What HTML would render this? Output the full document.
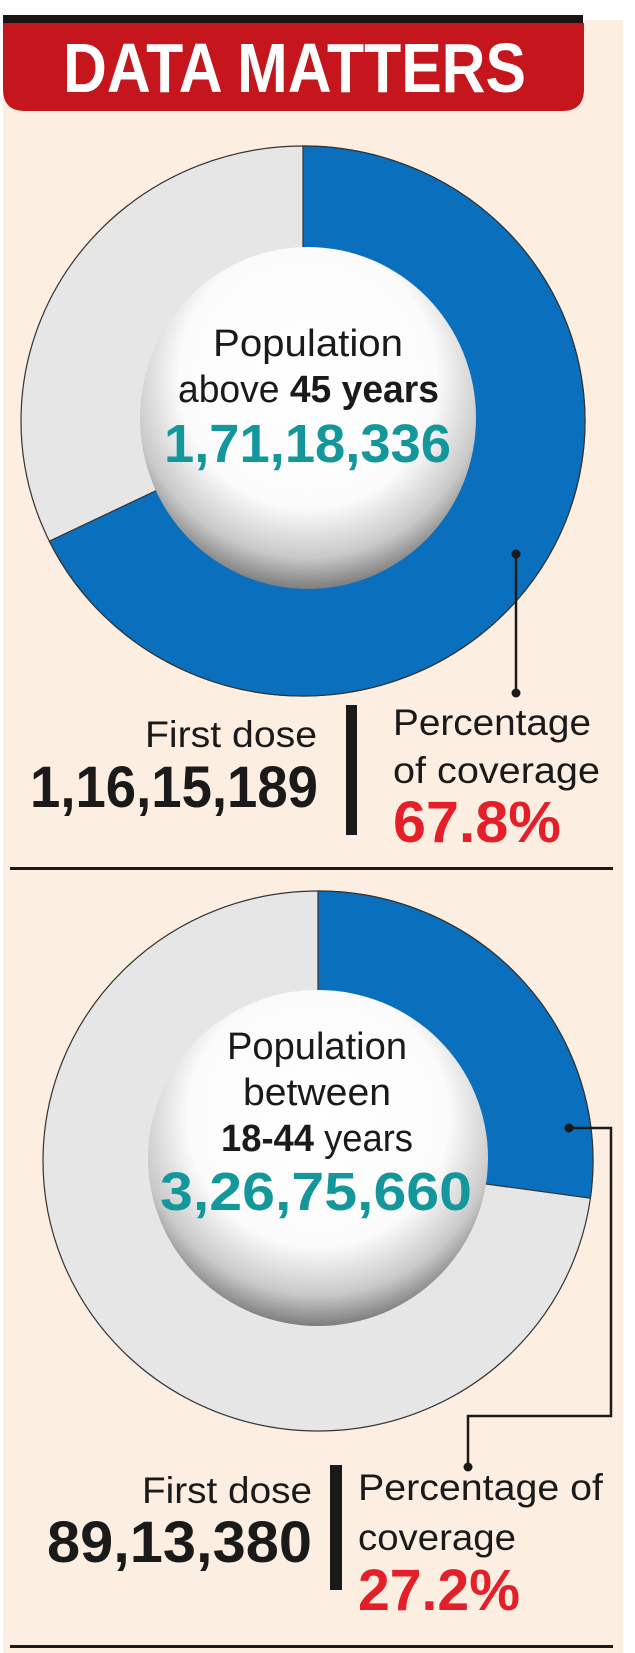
<!DOCTYPE html>
<html><head><meta charset="utf-8"><style>
html,body{margin:0;padding:0;background:#fff;}
svg{display:block;font-family:"Liberation Sans",sans-serif;}
</style></head><body>
<svg id="chart" width="635" height="1653" viewBox="0 0 635 1653" xmlns="http://www.w3.org/2000/svg">
<defs>
<radialGradient id="hole" cx="50%" cy="38%" r="62%">
<stop offset="0" stop-color="#ffffff"/><stop offset="0.62" stop-color="#fbfbfb"/><stop offset="0.85" stop-color="#c9c9c9"/><stop offset="1" stop-color="#7d7d7d"/>
</radialGradient>
</defs>
<rect x="3" y="20" width="620" height="1633" fill="#fcefe2"/>
<rect x="3" y="15" width="580" height="8" fill="#1b1416"/>
<path d="M3 23 H584 V89 Q584 111 562 111 H25 Q3 111 3 89 Z" fill="#c4161c"/>
<text x="63" y="92" font-size="70" font-weight="bold" fill="#fff" textLength="463" lengthAdjust="spacingAndGlyphs">DATA MATTERS</text>
<g id="donuts"></g>
<rect x="10" y="867" width="603" height="3" fill="#1a1a1a"/>
<rect x="10" y="1645" width="603" height="3" fill="#1a1a1a"/>

<text x="213" y="356" font-size="38" fill="#1a1a1a" textLength="190" lengthAdjust="spacingAndGlyphs">Population</text>
<text x="178" y="402" font-size="38" fill="#1a1a1a" textLength="261" lengthAdjust="spacingAndGlyphs">above <tspan font-weight="bold">45 years</tspan></text>
<text x="164" y="462" font-size="54" font-weight="bold" fill="#13979b" textLength="287" lengthAdjust="spacingAndGlyphs">1,71,18,336</text>

<text x="145" y="747" font-size="37" fill="#1a1a1a" textLength="172" lengthAdjust="spacingAndGlyphs">First dose</text>
<text x="30" y="807" font-size="58" font-weight="bold" fill="#1a1a1a" textLength="288" lengthAdjust="spacingAndGlyphs">1,16,15,189</text>
<rect x="346" y="705" width="11" height="130" fill="#1a1a1a"/>
<text x="393" y="735" font-size="37" fill="#1a1a1a" textLength="198" lengthAdjust="spacingAndGlyphs">Percentage</text>
<text x="393" y="783" font-size="37" fill="#1a1a1a" textLength="207" lengthAdjust="spacingAndGlyphs">of coverage</text>
<text x="393" y="842" font-size="58" font-weight="bold" fill="#e3202a" textLength="168" lengthAdjust="spacingAndGlyphs">67.8%</text>

<text x="227" y="1059" font-size="38" fill="#1a1a1a" textLength="180" lengthAdjust="spacingAndGlyphs">Population</text>
<text x="243" y="1105" font-size="38" fill="#1a1a1a" textLength="148" lengthAdjust="spacingAndGlyphs">between</text>
<text x="221" y="1151" font-size="38" fill="#1a1a1a" textLength="192" lengthAdjust="spacingAndGlyphs"><tspan font-weight="bold">18-44</tspan> years</text>
<text x="160" y="1210" font-size="54" font-weight="bold" fill="#13979b" textLength="312" lengthAdjust="spacingAndGlyphs">3,26,75,660</text>

<text x="142" y="1503" font-size="37" fill="#1a1a1a" textLength="170" lengthAdjust="spacingAndGlyphs">First dose</text>
<text x="47" y="1562" font-size="58" font-weight="bold" fill="#1a1a1a" textLength="265" lengthAdjust="spacingAndGlyphs">89,13,380</text>
<rect x="330" y="1465" width="12" height="125" fill="#1a1a1a"/>
<text x="358" y="1500" font-size="37" fill="#1a1a1a" textLength="245" lengthAdjust="spacingAndGlyphs">Percentage of</text>
<text x="358" y="1550" font-size="37" fill="#1a1a1a" textLength="158" lengthAdjust="spacingAndGlyphs">coverage</text>
<text x="358" y="1610" font-size="58" font-weight="bold" fill="#e3202a" textLength="162" lengthAdjust="spacingAndGlyphs">27.2%</text>

<g fill="none" stroke="#1a1a1a" stroke-width="2.5">
<polyline points="516,554 516,693"/>
<polyline points="569,1128 611,1128 611,1416 468,1416 468,1467"/>
</g>
<circle cx="516" cy="554" r="4.5" fill="#1a1a1a"/>
<circle cx="516" cy="693" r="4.5" fill="#1a1a1a"/>
<circle cx="569" cy="1128" r="4.5" fill="#1a1a1a"/>
<circle cx="468" cy="1467" r="4.5" fill="#1a1a1a"/>
</svg>
<script>
const groups = ["above-45", "18-44"];
const coverage = [67.8, 27.2];

const geom = [
  {cx: 303, cy: 421, rx: 282, ry: 275, hx: 308, hy: 418, hrx: 168, hry: 171},
  {cx: 318, cy: 1161, rx: 275, ry: 270, hx: 318, hy: 1158, hrx: 170, hry: 168}
];
const NS = "http://www.w3.org/2000/svg";
const g = document.getElementById("donuts");
function pt(G, a) { return [G.cx + G.rx * Math.sin(a), G.cy - G.ry * Math.cos(a)]; }
function wedge(G, a0, a1) {
  const p0 = pt(G, a0), p1 = pt(G, a1);
  const large = (a1 - a0) > Math.PI ? 1 : 0;
  return `M${G.cx},${G.cy} L${p0[0]},${p0[1]} A${G.rx},${G.ry} 0 ${large} 1 ${p1[0]},${p1[1]} Z`;
}
coverage.forEach((v, i) => {
  const G = geom[i];
  const a = v / 100 * 2 * Math.PI;
  const bg = document.createElementNS(NS, "ellipse");
  bg.setAttribute("cx", G.cx); bg.setAttribute("cy", G.cy);
  bg.setAttribute("rx", G.rx); bg.setAttribute("ry", G.ry);
  bg.setAttribute("fill", "#e6e6e6"); bg.setAttribute("stroke", "#333"); bg.setAttribute("stroke-width", "1.2");
  
  
  g.appendChild(bg);
  const sl = document.createElementNS(NS, "path");
  sl.setAttribute("d", wedge(G, 0, a));
  sl.setAttribute("fill", "#0a6fbd"); sl.setAttribute("stroke", "#333"); sl.setAttribute("stroke-width", "1.2");
  
  
  g.appendChild(sl);
  const h = document.createElementNS(NS, "ellipse");
  h.setAttribute("cx", G.hx); h.setAttribute("cy", G.hy);
  h.setAttribute("rx", G.hrx); h.setAttribute("ry", G.hry);
  h.setAttribute("fill", "url(#hole)");
  
  
  g.appendChild(h);
});
</script>
</body></html>
